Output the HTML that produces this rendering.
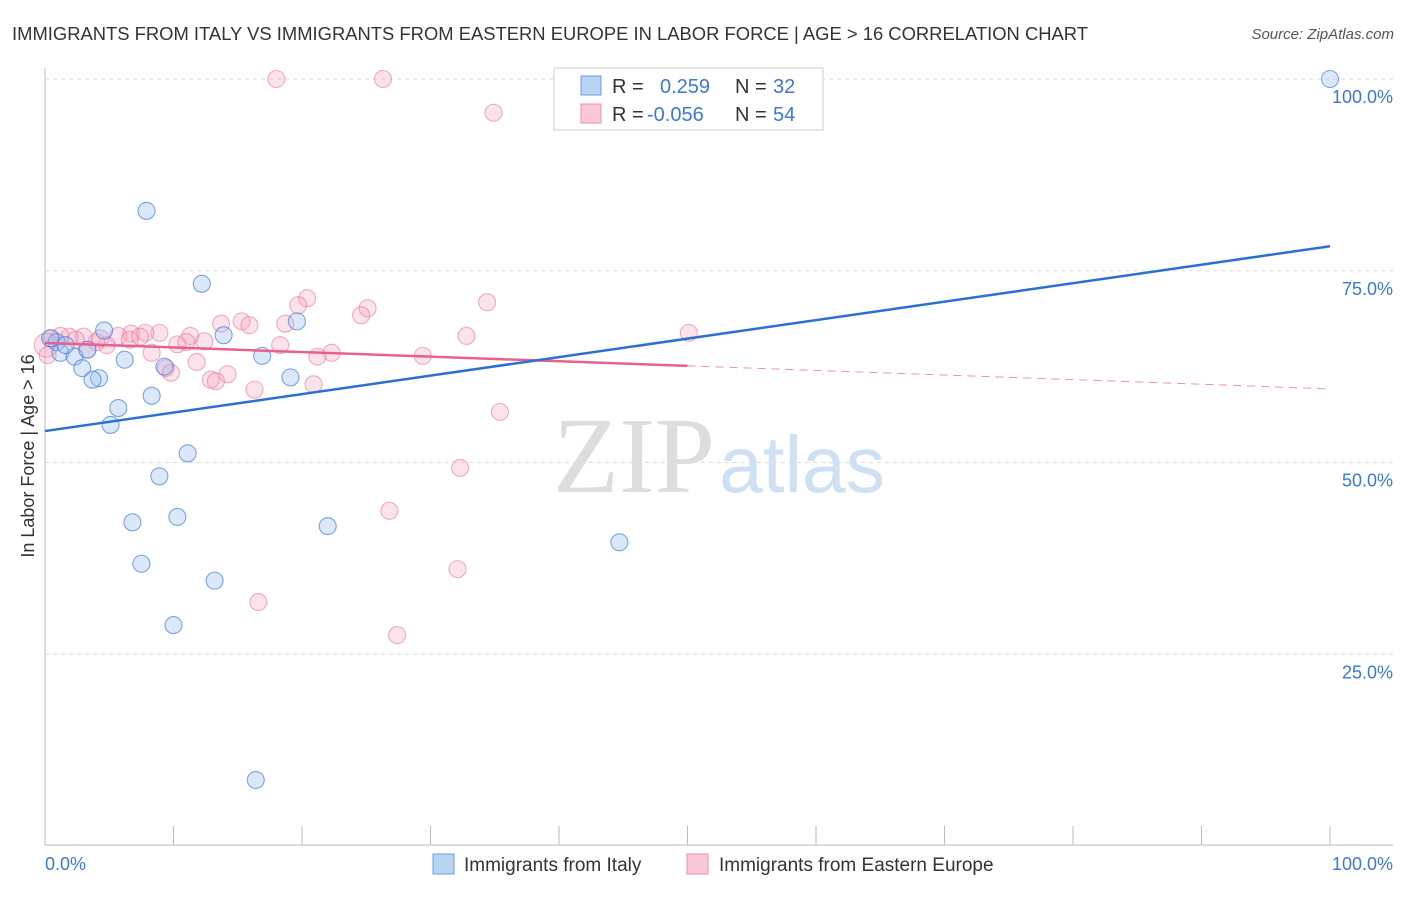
<!DOCTYPE html>
<html><head><meta charset="utf-8"><style>
body{margin:0;background:#fff;font-family:"Liberation Sans",sans-serif}
</style></head><body>
<svg width="1406" height="892" xmlns="http://www.w3.org/2000/svg">
<text x="12" y="40" font-size="18" fill="#333" textLength="1076" lengthAdjust="spacingAndGlyphs">IMMIGRANTS FROM ITALY VS IMMIGRANTS FROM EASTERN EUROPE IN LABOR FORCE | AGE &gt; 16 CORRELATION CHART</text>
<text x="1394" y="39" font-size="15" fill="#555" font-style="italic" text-anchor="end">Source: ZipAtlas.com</text>
<g id="grid"></g>
<line x1="45" y1="68" x2="45" y2="845" stroke="#bbb"/>
<line x1="45" y1="845" x2="1393" y2="845" stroke="#bbb"/>
<text x="553" y="492" font-size="108" font-family="Liberation Serif,serif" fill="#ddd" textLength="162" lengthAdjust="spacingAndGlyphs">ZIP</text>
<text x="719" y="492" font-size="80" fill="#cfe0f3" textLength="166" lengthAdjust="spacingAndGlyphs">atlas</text>
<text x="34" y="456" font-size="18" fill="#333" text-anchor="middle" transform="rotate(-90 34 456)">In Labor Force | Age &gt; 16</text>
<text x="45" y="870" font-size="18" fill="#3b78d8">0.0%</text>
<text x="1393" y="870" font-size="18" fill="#3b78d8" text-anchor="end">100.0%</text>
<g id="marks"></g>
<g>
<rect x="554" y="68" width="269" height="62" fill="#fff" stroke="#ccc"/>
<rect x="581" y="76" width="20" height="19" fill="#b9d3f5" stroke="#6a9be0"/>
<rect x="581" y="104" width="20" height="19" fill="#fcc8d8" stroke="#ec8fae"/>
<text x="612" y="93" font-size="20" fill="#333">R =</text>
<text x="660" y="93" font-size="20" fill="#3b78d8">0.259</text>
<text x="735" y="93" font-size="20" fill="#333">N =</text>
<text x="773" y="93" font-size="20" fill="#3b78d8">32</text>
<text x="612" y="121" font-size="20" fill="#333">R =</text>
<text x="647" y="121" font-size="20" fill="#3b78d8">-0.056</text>
<text x="735" y="121" font-size="20" fill="#333">N =</text>
<text x="773" y="121" font-size="20" fill="#3b78d8">54</text>
</g>
<g>
<rect x="433" y="854" width="21" height="20" fill="#b9d3f5" stroke="#6a9be0"/>
<text x="464" y="871" font-size="19" fill="#333">Immigrants from Italy</text>
<rect x="687" y="854" width="21" height="20" fill="#fcc8d8" stroke="#ec8fae"/>
<text x="719" y="871" font-size="19" fill="#333">Immigrants from Eastern Europe</text>
</g>
</svg>
<script>
const yTicks=[100,75,50,25];
const yTickLabels=["100.0%","75.0%","50.0%","25.0%"];
const xTickVals=[0,10,20,30,40,50,60,70,80,90,100];
const italyX=[100,7.9,12.2,19.6,4.6,13.9,0.9,1.2,2.3,3.3,6.2,2.9,16.9,9.3,4.2,3.7,19.1,8.3,5.7,5.1,11.1,8.9,10.3,6.8,22.0,44.7,7.5,13.2,10.0,16.4,0.4,1.6];
const italyY=[100,82.8,73.3,68.4,67.2,66.6,65.7,64.3,63.8,64.7,63.4,62.3,63.9,62.5,61.0,60.8,61.1,58.7,57.1,54.9,51.2,48.2,42.9,42.2,41.7,39.6,36.8,34.6,28.8,8.6,66.2,65.3];
const eeX=[18.0,26.3,34.9,20.4,34.4,19.7,25.1,24.6,50.1,32.8,13.7,15.3,15.9,18.7,8.9,6.7,5.7,7.8,11.3,12.4,10.3,11.0,18.3,4.8,4.0,3.0,1.9,1.2,0.5,2.4,22.3,21.2,8.3,29.4,11.8,9.4,9.8,14.2,12.9,13.3,16.3,20.9,35.4,32.3,26.8,32.1,16.6,27.4,0.1,0.2,6.6,7.4,3.3,4.3];
const eeY=[100,100,95.6,71.4,70.9,70.5,70.1,69.2,66.9,66.5,68.1,68.4,67.9,68.1,66.9,66.8,66.5,66.9,66.5,65.8,65.4,65.7,65.3,65.3,65.7,66.4,66.4,66.5,66.2,66.0,64.3,63.8,64.3,63.9,63.1,62.3,61.7,61.5,60.8,60.6,59.5,60.2,56.6,49.3,43.7,36.1,31.8,27.5,65.3,64.0,66.0,66.4,64.7,66.2];
const italyTrend=[54.1,78.2];
const eeTrend=[65.6,59.6];
const eeSolidEnd=50;
const NS="http://www.w3.org/2000/svg";
const sx=v=>45+v*12.85;
const sy=v=>846-v*7.67;
const grid=document.getElementById('grid'),marks=document.getElementById('marks');
function mk(tag,attrs,parent){const e=document.createElementNS(NS,tag);for(const k in attrs)e.setAttribute(k,attrs[k]);parent.appendChild(e);return e;}
yTicks.forEach((t,i)=>{
  const l=mk('line',{x1:45,x2:1393,y1:sy(t),y2:sy(t),stroke:'#ddd','stroke-dasharray':'4,4'},grid);
  
  
  const tx=mk('text',{x:1393,y:sy(t)+24,'font-size':18,fill:'#3b78d8','text-anchor':'end'},grid);
  tx.textContent=yTickLabels[i];
  
  
});
xTickVals.forEach(t=>{
  const l=mk('line',{x1:sx(t),x2:sx(t),y1:826,y2:845,stroke:'#bbb'},grid);
  
  
});
eeX.forEach((x,i)=>{
  const c=mk('circle',{cx:sx(x),cy:sy(eeY[i]),r:i===48?12:8.5,fill:'rgba(246,160,190,0.3)',stroke:'rgba(232,110,150,0.55)','stroke-width':1.1},marks);
  
  
});
italyX.forEach((x,i)=>{
  const c=mk('circle',{cx:sx(x),cy:sy(italyY[i]),r:8.5,fill:'rgba(150,190,240,0.35)',stroke:'rgba(60,120,215,0.65)','stroke-width':1.1},marks);
  
  
});
const eeAt=x=>eeTrend[0]+(eeTrend[1]-eeTrend[0])*x/100;
let l1=mk('line',{x1:sx(0),y1:sy(eeTrend[0]),x2:sx(eeSolidEnd),y2:sy(eeAt(eeSolidEnd)),stroke:'#e8608f','stroke-width':2.5},marks);


let l2=mk('line',{x1:sx(eeSolidEnd),y1:sy(eeAt(eeSolidEnd)),x2:sx(100),y2:sy(eeTrend[1]),stroke:'#e8608f','stroke-width':1,'stroke-dasharray':'8,6',opacity:0.7},marks);


let l3=mk('line',{x1:sx(0),y1:sy(italyTrend[0]),x2:sx(100),y2:sy(italyTrend[1]),stroke:'#2a6fd6','stroke-width':2.5},marks);


</script>
</body></html>
